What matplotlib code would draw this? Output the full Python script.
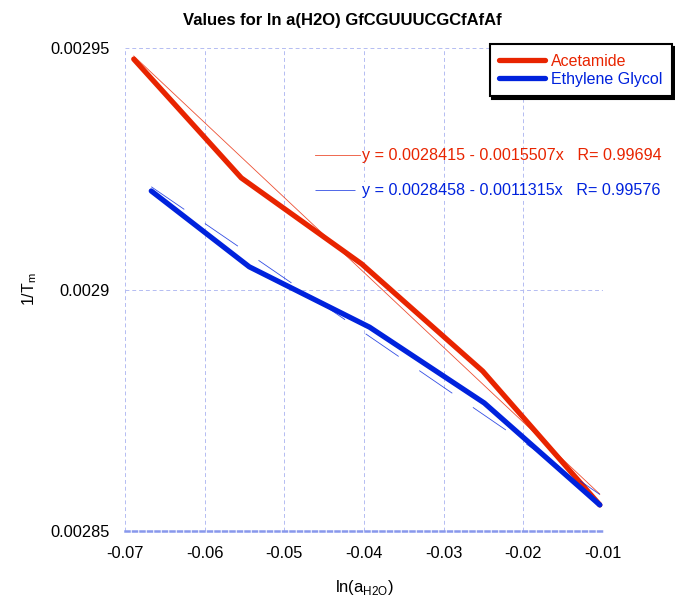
import numpy as np
import matplotlib.pyplot as plt

plt.rcParams['font.family'] = ['Liberation Sans', 'DejaVu Sans']

# ln(a_H2O) and 1/Tm for each cosolute
x_acet = [-0.0689, -0.0554, -0.0403, -0.0251, -0.0104]
y_acet = [0.0029477, 0.0029231, 0.0029053, 0.0028831, 0.0028554]
x_eg = [-0.0667, -0.0544, -0.0393, -0.0249, -0.0104]
y_eg = [0.0029204, 0.0029047, 0.0028922, 0.0028765, 0.0028554]

# linear fits  y = a - b*x
fit_acet = (0.0028415, 0.0015507, 0.99694)
fit_eg = (0.0028458, 0.0011315, 0.99576)

xticks = [-0.07, -0.06, -0.05, -0.04, -0.03, -0.02, -0.01]
xtick_labels = ['-0.07', '-0.06', '-0.05', '-0.04', '-0.03', '-0.02', '-0.01']
yticks = [0.00285, 0.0029, 0.00295]
ytick_labels = ['0.00285', '0.0029', '0.00295']

red = '#e82400'
blue = '#0022dd'
grid_col = '#b4bcf2'
dash = (0, (48, 30))

fig = plt.figure(figsize=(6.75, 5.99), dpi=100)
ax = fig.add_axes([125/675, 1 - 531/599, 478/675, 483/599])

ax.plot(x_acet, y_acet, color=red, lw=3.8, solid_capstyle='round',
        solid_joinstyle='round', label='Acetamide', zorder=3)
ax.plot(x_eg, y_eg, color=blue, lw=3.8, solid_capstyle='round',
        solid_joinstyle='round', label='Ethylene Glycol', zorder=3)

xa = np.array([x_acet[0], x_acet[-1]])
ax.plot(xa, fit_acet[0] - fit_acet[1] * xa, color=red, lw=0.6, alpha=0.8, zorder=4)
xe = np.array([x_eg[0], x_eg[-1]])
ax.plot(xe, fit_eg[0] - fit_eg[1] * xe, color=blue, lw=0.6, alpha=0.8,
        ls=dash, zorder=4)

# fit equations
ax.plot([0.397, 0.492], [0.778, 0.778], transform=ax.transAxes, color=red, lw=0.6, alpha=0.8)
ax.text(0.496, 0.778, 'y = %.7f - %.7fx   R= %.5f' % fit_acet, transform=ax.transAxes,
        color=red, fontsize=11.6, va='center', ha='left')
ax.plot([0.397, 0.506], [0.706, 0.706], transform=ax.transAxes, color=blue, lw=0.6,
        alpha=0.8, ls=dash)
ax.text(0.496, 0.706, 'y = %.7f - %.7fx   R= %.5f' % fit_eg, transform=ax.transAxes,
        color=blue, fontsize=11.6, va='center', ha='left',
        bbox=dict(facecolor='white', edgecolor='none', pad=0.5))

ax.set_xlim(-0.07, -0.01)
ax.set_ylim(0.00285, 0.00295)
ax.set_xticks(xticks)
ax.set_xticklabels(xtick_labels)
ax.set_yticks(yticks)
ax.set_yticklabels(ytick_labels)
ax.tick_params(length=0, labelsize=11.8, pad=11)

for s in ['top', 'left', 'right']:
    ax.spines[s].set_visible(False)
ax.spines['bottom'].set_color('#8898ec')
ax.spines['bottom'].set_linestyle((0, (1.6, 1.4)))
ax.spines['bottom'].set_linewidth(1.8)
ax.grid(True, color=grid_col, lw=0.7, ls=(0, (4, 3)))
ax.set_axisbelow(True)

fig.text(342.5/675, 1 - 20/599, 'Values for ln a(H2O) GfCGUUUCGCfAfAf', fontsize=12,
         fontweight='bold', ha='center', va='center')
ax.set_xlabel(r'ln(a$_{\mathregular{H2O}}$)', fontsize=12, labelpad=12)
ax.set_ylabel(r'1/T$_{\mathregular{m}}$', fontsize=11.5, labelpad=8)

leg = ax.legend(loc='upper right', bbox_to_anchor=(672/675, 1 - 44/599),
                bbox_transform=fig.transFigure, fontsize=11.5, frameon=True,
                fancybox=False, framealpha=1, edgecolor='black',
                handlelength=2.9, handletextpad=0.35, borderpad=0.6,
                labelspacing=0.2, labelcolor='linecolor', borderaxespad=0,
                shadow={'color': 'black', 'alpha': 1})
leg.get_frame().set_linewidth(1.5)
leg.set_zorder(10)

fig.savefig('out.png', dpi=100)
